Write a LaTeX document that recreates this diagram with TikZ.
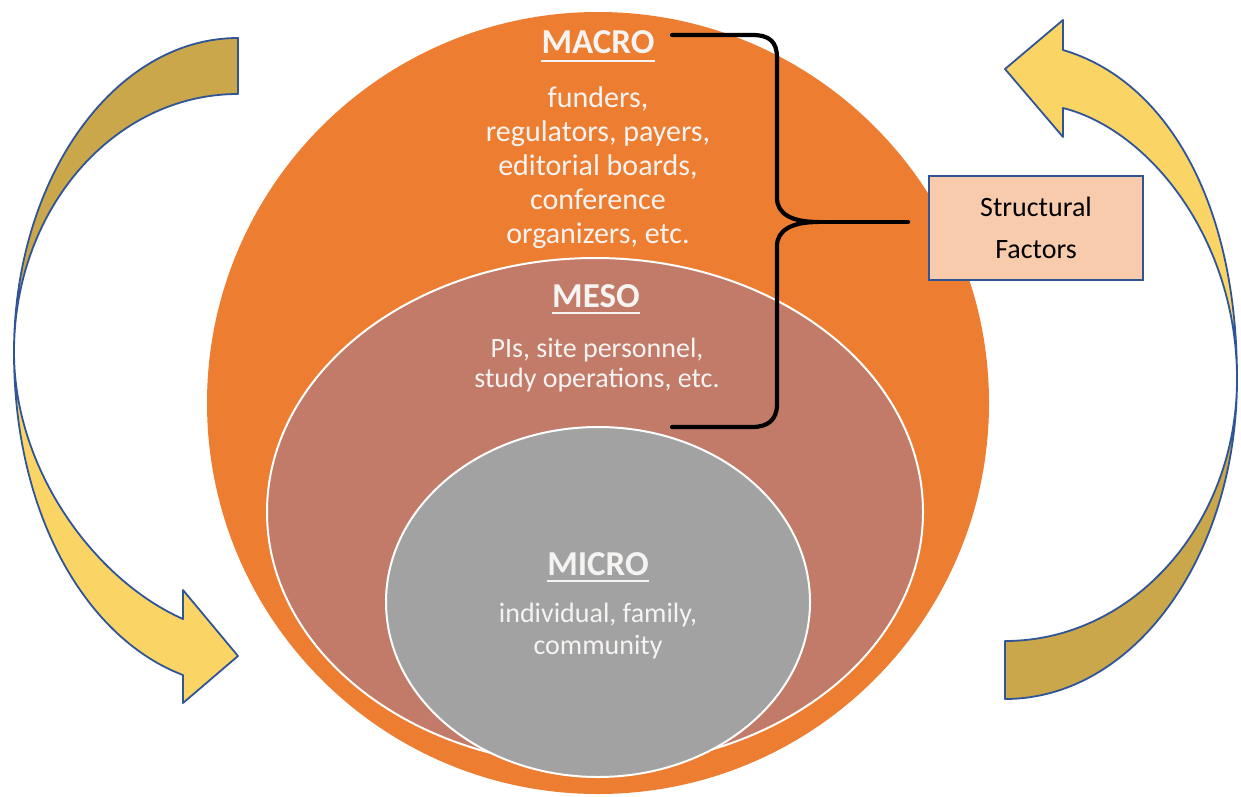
\documentclass[tikz,border=0pt]{standalone}
\usepackage{fontspec}
\setmainfont{Carlito}
\definecolor{macroorange}{RGB}{237,125,49}
\definecolor{mesocol}{RGB}{194,123,104}
\definecolor{microcol}{RGB}{162,162,162}
\definecolor{lightgold}{RGB}{250,213,102}
\definecolor{darkgold}{RGB}{202,167,75}
\definecolor{arrowblue}{RGB}{47,85,151}
\definecolor{sfcol}{RGB}{248,203,173}
\definecolor{softwhite}{RGB}{246,244,242}
\begin{document}
\begin{tikzpicture}[x=1pt,y=-1pt,
  head/.style={font=\fontsize{35}{40}\selectfont\bfseries, text=softwhite, inner sep=0pt, anchor=base},
  bodytext/.style={text=softwhite, inner sep=0pt, align=center, anchor=north},
  ring/.style={draw=white, line width=2pt},
  arrowline/.style={draw=arrowblue, line width=1.8pt, line join=round},
  ul/.style={softwhite, line width=2.2pt},
  bracestyle/.style={black, line width=4.2pt, line cap=round, line join=round}]
\useasboundingbox (0,0) rectangle (1241,796);

% curved arrows
\path[arrowline, fill=darkgold] (238,38) .. controls (114,38) and (14,179) .. (14,352)
  .. controls (14,209) and (114,94) .. (238,94) -- cycle;
\path[arrowline, fill=lightgold] (14,352) .. controls (14,520) and (90,640) .. (183,675)
  -- (183,703) -- (238,656) -- (183,590) -- (183,619)
  .. controls (95,580) and (14,470) .. (14,352) -- cycle;
\path[arrowline, fill=lightgold] (1237,379) .. controls (1237,200) and (1165,80) .. (1063,50)
  -- (1063,20) -- (1005,69) -- (1063,137) -- (1063,108)
  .. controls (1150,130) and (1237,240) .. (1237,379) -- cycle;
\path[arrowline, fill=darkgold] (1237,379) .. controls (1237,556) and (1134,699) .. (1005,699)
  -- (1005,641) .. controls (1133,641) and (1237,524) .. (1237,379) -- cycle;

% nested circles
\fill[macroorange] (598,403) circle [radius=391];
\path[fill=mesocol, ring] (595,512) ellipse [x radius=328, y radius=254];
\path[fill=microcol, ring] (598,602) ellipse [x radius=212, y radius=175];

% texts
\node[head] (macro) at (598,53) {MACRO};
\draw[ul] ([yshift=-8pt]macro.base west) -- ([yshift=-8pt]macro.base east);
\node[bodytext, font=\fontsize{30}{34}\selectfont] (macrotxt) at (598,86)
  {funders,\\regulators, payers,\\editorial boards,\\conference\\organizers, etc.};

\node[head] (meso) at (596,307) {MESO};
\draw[ul] ([yshift=-6pt]meso.base west) -- ([yshift=-6pt]meso.base east);
\node[bodytext, font=\fontsize{28}{30}\selectfont] (mesotxt) at (597,338)
  {PIs, site personnel,\\study operations, etc.};

\node[head] (micro) at (598,575) {MICRO};
\draw[ul] ([yshift=-6pt]micro.base west) -- ([yshift=-6pt]micro.base east);
\node[bodytext, font=\fontsize{28}{32}\selectfont] (microtxt) at (598,603)
  {individual, family,\\community};

% structural factors box
\node[draw=arrowblue, fill=sfcol, line width=1.5pt, minimum width=214pt, minimum height=104pt,
  align=center, font=\fontsize{28}{42}\selectfont, inner sep=0pt] (sf) at (1036,228)
  {Structural\\Factors};

% brace
\coordinate (bt) at (672,35);
\coordinate (bb) at (672,427);
\coordinate (btip) at (818,222);
\coordinate (bend) at (908,222);
\draw[bracestyle] (bt) -- (752,35) .. controls (770,35) and (777,42) .. (777,58)
  -- (777,198) .. controls (777,214) and (792,222) .. (btip)
  .. controls (792,222) and (777,230) .. (777,246)
  -- (777,404) .. controls (777,420) and (768,427) .. (752,427) -- (bb);
\draw[bracestyle] (btip) -- (bend);
\end{tikzpicture}
\end{document}
